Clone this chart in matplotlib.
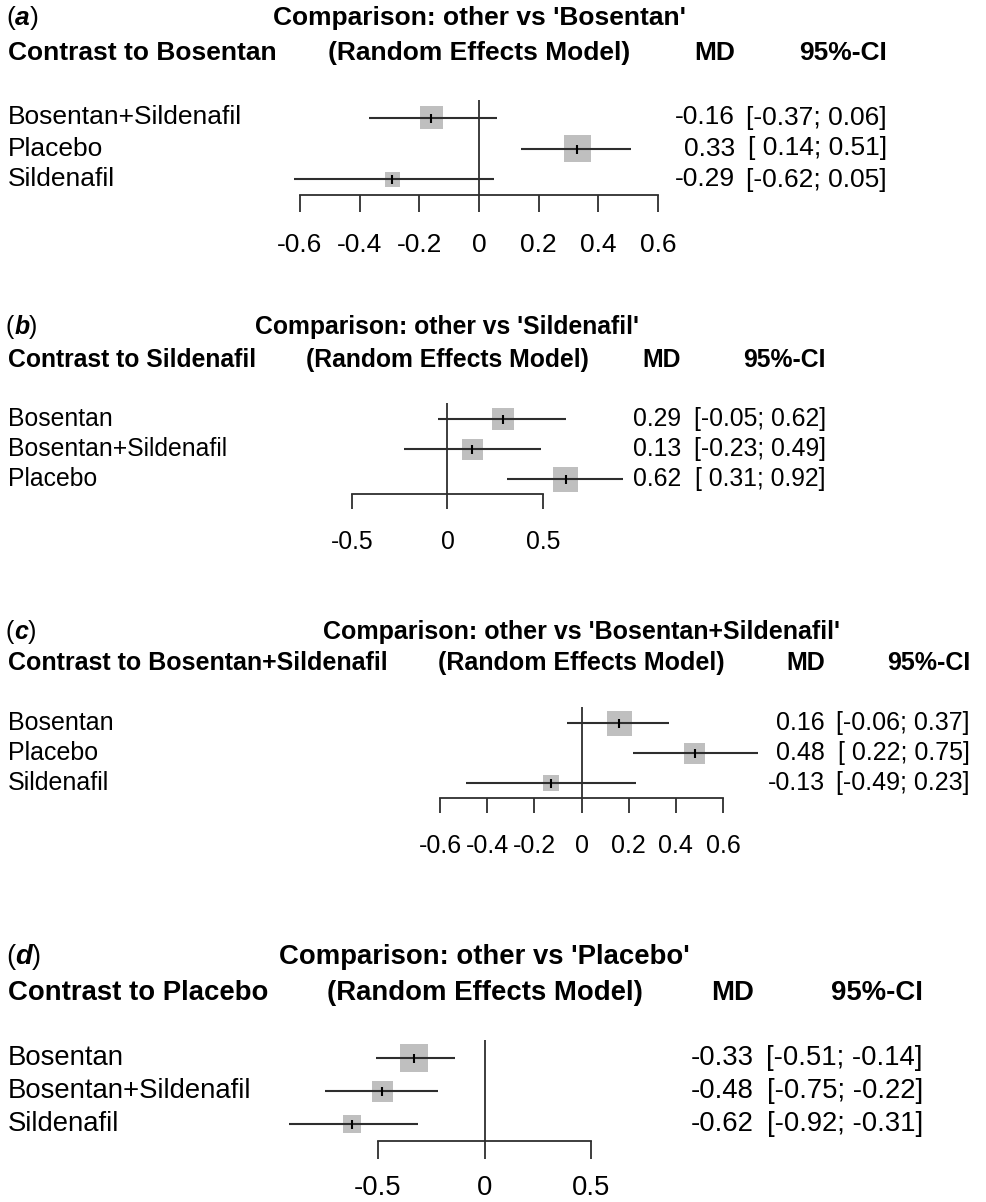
import matplotlib
matplotlib.use('Agg')
import matplotlib.pyplot as plt
from matplotlib import transforms
import numpy as np

plt.rcParams['font.family'] = ['Liberation Sans', 'DejaVu Sans']

# data
tags = ['a', 'b', 'c', 'd']
refs = ['Bosentan', 'Sildenafil', 'Bosentan+Sildenafil', 'Placebo']

labels_a = ['Bosentan+Sildenafil', 'Placebo', 'Sildenafil']
md_a = [-0.16, 0.33, -0.29]
lo_a = [-0.37, 0.14, -0.62]
hi_a = [0.06, 0.51, 0.05]
wt_a = [23, 27, 15]

labels_b = ['Bosentan', 'Bosentan+Sildenafil', 'Placebo']
md_b = [0.29, 0.13, 0.62]
lo_b = [-0.05, -0.23, 0.31]
hi_b = [0.62, 0.49, 0.92]
wt_b = [22, 21, 25]

labels_c = ['Bosentan', 'Placebo', 'Sildenafil']
md_c = [0.16, 0.48, -0.13]
lo_c = [-0.06, 0.22, -0.49]
hi_c = [0.37, 0.75, 0.23]
wt_c = [25, 21, 16]

labels_d = ['Bosentan', 'Bosentan+Sildenafil', 'Sildenafil']
md_d = [-0.33, -0.48, -0.62]
lo_d = [-0.51, -0.75, -0.92]
hi_d = [-0.14, -0.22, -0.31]
wt_d = [28, 21, 18]

xticks_a = [-0.6, -0.4, -0.2, 0, 0.2, 0.4, 0.6]
xticks_b = [-0.5, 0, 0.5]
xticks_c = [-0.6, -0.4, -0.2, 0, 0.2, 0.4, 0.6]
xticks_d = [-0.5, 0, 0.5]

panels = [
    (labels_a, md_a, lo_a, hi_a, wt_a, xticks_a),
    (labels_b, md_b, lo_b, hi_b, wt_b, xticks_b),
    (labels_c, md_c, lo_c, hi_c, wt_c, xticks_c),
    (labels_d, md_d, lo_d, hi_d, wt_d, xticks_d),
]

# layout in pixels of the 987x1202 canvas (each sub-figure has its own scale)
layout = [
    dict(x0=300, x1=658, row0=117.5, dy=31, title_y=18, head_y=53, md_x=735, ci_x=887,
         tlen=17, pad=15.0, fs=19.0),
    dict(x0=352, x1=543, row0=419, dy=30, title_y=327, head_y=360, md_x=681, ci_x=826,
         tlen=15, pad=14.8, fs=17.8),
    dict(x0=440, x1=723, row0=723, dy=30, title_y=632, head_y=663, md_x=825, ci_x=970,
         tlen=15, pad=15.2, fs=18.0),
    dict(x0=378, x1=591, row0=1058, dy=33, title_y=957, head_y=993, md_x=754, ci_x=923,
         tlen=18, pad=11.8, fs=19.8),
]
tag_width = {'a': 0.556, 'b': 0.611, 'c': 0.556, 'd': 0.611}

W, H = 987, 1202
LINE = '#2e2e2e'
BOX = '#bfbfbf'
LW = 1.3

fig = plt.figure(figsize=(W / 100, H / 100), dpi=100)

for tag, ref, (labels, md, lo, hi, wt, xt), L in zip(tags, refs, panels, layout):
    dy = L['dy']
    fs = L['fs']
    ax = fig.add_axes([L['x0'] / W, 1 - (L['row0'] + 2.5 * dy) / H,
                       (L['x1'] - L['x0']) / W, 3.05 * dy / H])
    ax.set_xlim(xt[0], xt[-1])
    ax.set_ylim(2.5, -0.55)
    ax.patch.set_visible(False)
    for s in ['top', 'left', 'right']:
        ax.spines[s].set_visible(False)
    ax.spines['bottom'].set_color(LINE)
    ax.spines['bottom'].set_linewidth(LW)
    ax.set_yticks([])
    ax.set_xticks(xt)
    ax.set_xticklabels([f"{round(v, 1) + 0.0:g}" for v in xt], fontsize=fs)
    ax.tick_params(axis='x', length=L['tlen'] * 0.72, width=LW, color=LINE,
                   pad=L['pad'])

    y = np.arange(len(labels))
    ax.vlines(0, -0.55, 2.5, color=LINE, lw=LW, zorder=1)
    ax.scatter(md, y, s=(np.array(wt) * 0.72) ** 2, marker='s', color=BOX,
               lw=0, zorder=2, clip_on=False)
    ax.hlines(y, lo, hi, color=LINE, lw=LW + 0.2, zorder=3, clip_on=False)
    ax.scatter(md, y, s=(9 * 0.72) ** 2, marker='|', color='black', lw=1.5,
               zorder=4, clip_on=False)

    # row texts
    tr = transforms.blended_transform_factory(fig.transFigure, ax.transData)
    for yi, lab, m, l, h in zip(y, labels, md, lo, hi):
        ax.text(8 / W, yi, lab, transform=tr, ha='left', va='center', fontsize=fs)
        ax.text(L['md_x'] / W, yi, f"{m:.2f}", transform=tr, ha='right',
                va='center', fontsize=fs)
        ax.text(L['ci_x'] / W, yi, f"[{l:5.2f}; {h:.2f}]", transform=tr,
                ha='right', va='center', fontsize=fs)

    # headings
    tt = L['title_y']
    hy = L['head_y']
    trc = transforms.blended_transform_factory(ax.transData, fig.transFigure)
    ax.text(0, 1 - tt / H, f"Comparison: other vs '{ref}'", transform=trc,
            ha='center', va='center', fontsize=fs, fontweight='bold')
    ax.text(0, 1 - hy / H, "(Random Effects Model)", transform=trc,
            ha='center', va='center', fontsize=fs, fontweight='bold')
    fig.text(8 / W, 1 - hy / H, f"Contrast to {ref}", ha='left', va='center',
             fontsize=fs, fontweight='bold')
    fig.text(L['md_x'] / W, 1 - hy / H, "MD", ha='right', va='center',
             fontsize=fs, fontweight='bold')
    fig.text(L['ci_x'] / W, 1 - hy / H, "95%-CI", ha='right', va='center',
             fontsize=fs, fontweight='bold')

    # panel tag: (a) with bold italic letter
    t1 = transforms.offset_copy(fig.transFigure, fig=fig, x=0.333 * fs, units='points')
    t2 = transforms.offset_copy(fig.transFigure, fig=fig,
                                x=(0.333 + tag_width[tag]) * fs, units='points')
    fig.text(6 / W, 1 - tt / H, "(", ha='left', va='center', fontsize=fs)
    fig.text(6 / W, 1 - tt / H, tag, transform=t1, ha='left', va='center',
             fontsize=fs, fontweight='bold', fontstyle='italic')
    fig.text(6 / W, 1 - tt / H, ")", transform=t2, ha='left', va='center', fontsize=fs)

fig.savefig('out.png', dpi=100)
